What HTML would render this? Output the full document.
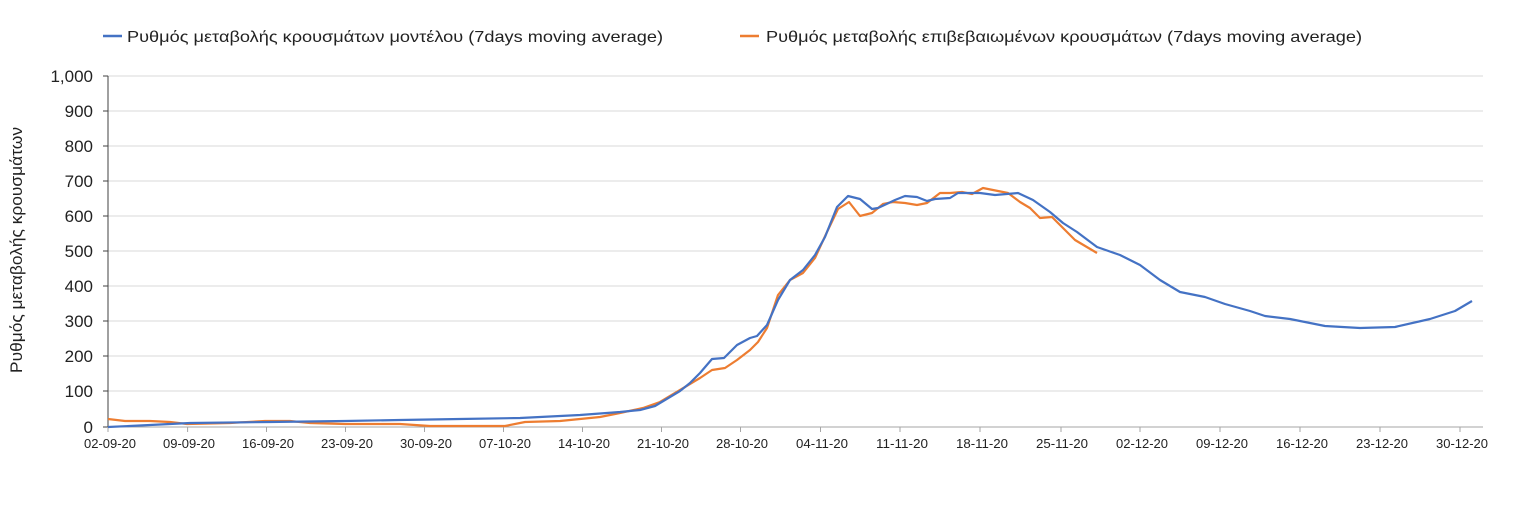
<!DOCTYPE html>
<html><head><meta charset="utf-8"><style>
html,body{margin:0;padding:0;background:#fff;}
svg{display:block;font-family:"Liberation Sans",sans-serif;}
</style></head><body>
<svg width="1513" height="509" viewBox="0 0 1513 509" xmlns="http://www.w3.org/2000/svg">
<g stroke="#d9d9d9" stroke-width="1">
<line x1="108" x2="1483" y1="76" y2="76"/><line x1="108" x2="1483" y1="111" y2="111"/>
<line x1="108" x2="1483" y1="146" y2="146"/><line x1="108" x2="1483" y1="181" y2="181"/>
<line x1="108" x2="1483" y1="216" y2="216"/><line x1="108" x2="1483" y1="251" y2="251"/>
<line x1="108" x2="1483" y1="286" y2="286"/><line x1="108" x2="1483" y1="321" y2="321"/>
<line x1="108" x2="1483" y1="356" y2="356"/><line x1="108" x2="1483" y1="391" y2="391"/>
</g>
<line x1="108" x2="1483" y1="427" y2="427" stroke="#a6a6a6"/>
<line x1="108" x2="108" y1="76" y2="427" stroke="#404040"/>
<g stroke="#404040">
<line x1="103" x2="108" y1="76" y2="76"/><line x1="103" x2="108" y1="111" y2="111"/><line x1="103" x2="108" y1="146" y2="146"/><line x1="103" x2="108" y1="181" y2="181"/><line x1="103" x2="108" y1="216" y2="216"/><line x1="103" x2="108" y1="251" y2="251"/><line x1="103" x2="108" y1="286" y2="286"/><line x1="103" x2="108" y1="321" y2="321"/><line x1="103" x2="108" y1="356" y2="356"/><line x1="103" x2="108" y1="391" y2="391"/><line x1="103" x2="108" y1="427" y2="427"/>
</g>
<g stroke="#a6a6a6">
<line x1="108" x2="108" y1="427" y2="432"/><line x1="187.6" x2="187.6" y1="427" y2="432"/><line x1="266.5" x2="266.5" y1="427" y2="432"/><line x1="345.5" x2="345.5" y1="427" y2="432"/><line x1="424.5" x2="424.5" y1="427" y2="432"/><line x1="503.5" x2="503.5" y1="427" y2="432"/><line x1="582.5" x2="582.5" y1="427" y2="432"/><line x1="661.5" x2="661.5" y1="427" y2="432"/><line x1="740.5" x2="740.5" y1="427" y2="432"/><line x1="820.5" x2="820.5" y1="427" y2="432"/><line x1="900" x2="900" y1="427" y2="432"/><line x1="980" x2="980" y1="427" y2="432"/><line x1="1061" x2="1061" y1="427" y2="432"/><line x1="1140" x2="1140" y1="427" y2="432"/><line x1="1220" x2="1220" y1="427" y2="432"/><line x1="1300" x2="1300" y1="427" y2="432"/><line x1="1380" x2="1380" y1="427" y2="432"/><line x1="1460" x2="1460" y1="427" y2="432"/>
</g>
<g font-size="17" fill="#222" text-anchor="end">
<text x="93" y="82">1,000</text><text x="93" y="117">900</text><text x="93" y="152">800</text><text x="93" y="187">700</text><text x="93" y="222">600</text><text x="93" y="257">500</text><text x="93" y="292">400</text><text x="93" y="327">300</text><text x="93" y="362">200</text><text x="93" y="397">100</text><text x="93" y="433">0</text>
</g>
<g font-size="13" fill="#222" text-anchor="middle">
<text x="110" y="448" textLength="52" lengthAdjust="spacingAndGlyphs">02-09-20</text>
<text x="189" y="448" textLength="52" lengthAdjust="spacingAndGlyphs">09-09-20</text>
<text x="268" y="448" textLength="52" lengthAdjust="spacingAndGlyphs">16-09-20</text>
<text x="347" y="448" textLength="52" lengthAdjust="spacingAndGlyphs">23-09-20</text>
<text x="426" y="448" textLength="52" lengthAdjust="spacingAndGlyphs">30-09-20</text>
<text x="505" y="448" textLength="52" lengthAdjust="spacingAndGlyphs">07-10-20</text>
<text x="584" y="448" textLength="52" lengthAdjust="spacingAndGlyphs">14-10-20</text>
<text x="663" y="448" textLength="52" lengthAdjust="spacingAndGlyphs">21-10-20</text>
<text x="742" y="448" textLength="52" lengthAdjust="spacingAndGlyphs">28-10-20</text>
<text x="822" y="448" textLength="52" lengthAdjust="spacingAndGlyphs">04-11-20</text>
<text x="902" y="448" textLength="52" lengthAdjust="spacingAndGlyphs">11-11-20</text>
<text x="982" y="448" textLength="52" lengthAdjust="spacingAndGlyphs">18-11-20</text>
<text x="1062" y="448" textLength="52" lengthAdjust="spacingAndGlyphs">25-11-20</text>
<text x="1142" y="448" textLength="52" lengthAdjust="spacingAndGlyphs">02-12-20</text>
<text x="1222" y="448" textLength="52" lengthAdjust="spacingAndGlyphs">09-12-20</text>
<text x="1302" y="448" textLength="52" lengthAdjust="spacingAndGlyphs">16-12-20</text>
<text x="1382" y="448" textLength="52" lengthAdjust="spacingAndGlyphs">23-12-20</text>
<text x="1462" y="448" textLength="52" lengthAdjust="spacingAndGlyphs">30-12-20</text>
</g>
<text transform="translate(22,250) rotate(-90)" font-size="17" fill="#222" text-anchor="middle" textLength="246" lengthAdjust="spacingAndGlyphs">Ρυθμός μεταβολής κρουσμάτων</text>
<line x1="103" x2="122" y1="36" y2="36" stroke="#4472c4" stroke-width="2.5"/>
<text x="127" y="42" font-size="16" fill="#222" textLength="536" lengthAdjust="spacingAndGlyphs">Ρυθμός μεταβολής κρουσμάτων μοντέλου (7days moving average)</text>
<line x1="740" x2="759" y1="36" y2="36" stroke="#ed7d31" stroke-width="2.5"/>
<text x="766" y="42" font-size="16" fill="#222" textLength="596" lengthAdjust="spacingAndGlyphs">Ρυθμός μεταβολής επιβεβαιωμένων κρουσμάτων (7days moving average)</text>
<polyline fill="none" stroke="#ed7d31" stroke-width="2.2" stroke-linejoin="round" points="108,419 125,421 150,421 170,422 187,424 230,423 265,421 290,421 310,423 345,424 400,424 430,426 480,426 505,426 525,422 560,421 580,419 600,417 620,413 643,408 660,402 680,390 700,378 712,370 725,368 737,360 750,350 758,342 767,328 778,295 790,280 803,273 815,258 827,232 838,209 849,202 860,216 872,213 883,204 893,202 905,203 917,205 927,203 940,193 950,193 962,192 972,194 983,188 1008,193 1020,202 1030,208 1040,218 1052,217 1067,232 1075,240 1097,253"/>
<polyline fill="none" stroke="#4472c4" stroke-width="2.2" stroke-linejoin="round" points="108,427 150,425 190,423 270,422 345,421 400,420 460,419 520,418 580,415 620,412 640,410 655,406 680,391 690,383 700,373 712,359 724,358 737,345 750,338 757,336 767,325 778,300 790,280 803,270 815,255 825,237 837,207 848,196 860,199 872,209 878,208 895,200 905,196 917,197 927,201 935,199 950,198 958,193 980,193 995,195 1018,193 1033,200 1050,212 1063,223 1077,232 1097,247 1120,255 1140,265 1160,280 1180,292 1205,297 1225,304 1250,311 1265,316 1290,319 1325,326 1360,328 1395,327 1430,319 1455,311 1472,301"/>
</svg>
</body></html>
